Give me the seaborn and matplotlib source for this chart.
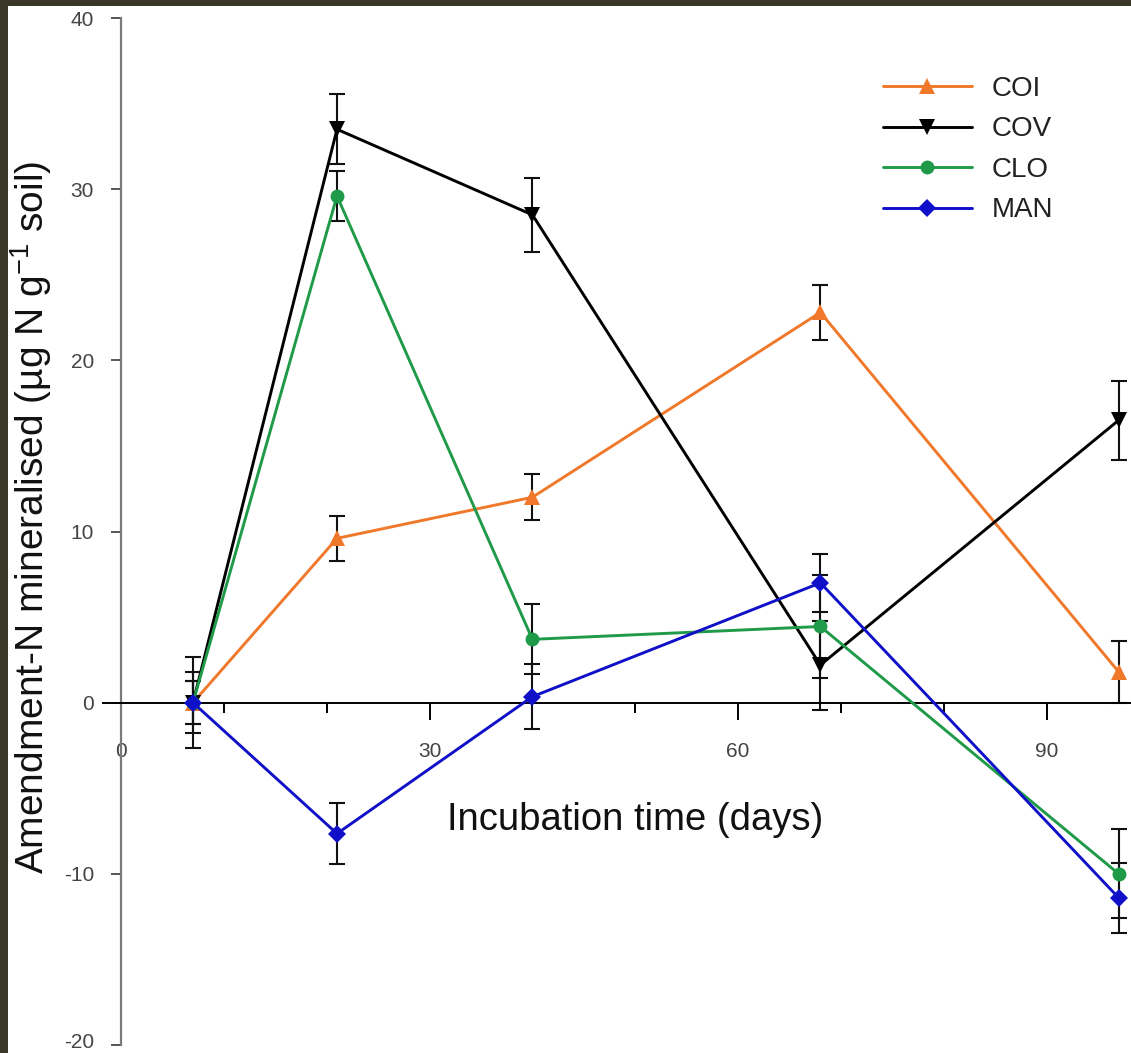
import matplotlib
matplotlib.use("Agg")
import matplotlib.pyplot as plt
from matplotlib.lines import Line2D
from matplotlib.patches import Rectangle
from matplotlib.ticker import MultipleLocator
from matplotlib.transforms import ScaledTranslation
import seaborn as sns
import pandas as pd

# ---- data ----
days = [7, 21, 40, 68, 97]
series_names = ["COI", "COV", "CLO", "MAN"]
coi = [0.0, 9.6, 12.0, 22.8, 1.8]
coi_err = [1.25, 1.3, 1.35, 1.6, 1.8]
cov = [0.0, 33.5, 28.5, 2.2, 16.5]
cov_err = [2.65, 2.05, 2.15, 2.6, 2.3]
clo = [0.0, 29.6, 3.7, 4.45, -10.0]
clo_err = [1.25, 1.45, 2.05, 3.0, 2.6]
man = [0.0, -7.65, 0.35, 7.0, -11.4]
man_err = [1.8, 1.8, 1.9, 1.7, 2.05]
x_ticks = [0, 30, 60, 90]
y_ticks = [-20, -10, 0, 10, 20, 30, 40]

values = {"COI": coi, "COV": cov, "CLO": clo, "MAN": man}
errors = {"COI": coi_err, "COV": cov_err, "CLO": clo_err, "MAN": man_err}

colors = {"COI": "#F0782A", "COV": "#000000", "CLO": "#1F9A48", "MAN": "#1010C8"}
markers = {"COI": "^", "COV": "v", "CLO": "o", "MAN": "D"}
msizes = {"COI": 11.5, "COV": 11.5, "CLO": 10, "MAN": 9.5}

rows = []
for s in series_names:
    for d, v, e in zip(days, values[s], errors[s]):
        rows.append({"day": d, "value": v, "err": e, "series": s})
df = pd.DataFrame(rows)

sns.set_style("white")
plt.rcParams["font.family"] = ["Liberation Sans", "DejaVu Sans"]
plt.rcParams["axes.unicode_minus"] = False
plt.rcParams["mathtext.default"] = "regular"

W, H = 1131, 1053
fig = plt.figure(figsize=(W / 100, H / 100), dpi=100, facecolor="white")

# axes placed in pixel terms
ax_l, ax_r, ax_t, ax_b = 103, 1131, 18, 1045
ax = fig.add_axes([ax_l / W, (H - ax_b) / H, (ax_r - ax_l) / W, (ax_b - ax_t) / H])
ax.set_facecolor("white")

# error bars (black)
for s in series_names:
    sub = df[df.series == s]
    ax.errorbar(sub["day"], sub["value"], yerr=sub["err"], fmt="none",
                ecolor="#111111", elinewidth=1.5, capsize=6, capthick=1.5, zorder=2)

# lines and markers
for s in series_names:
    sub = df[df.series == s]
    sns.lineplot(data=sub, x="day", y="value", ax=ax, color=colors[s],
                 marker=markers[s], markersize=msizes[s], markeredgewidth=0,
                 markerfacecolor=colors[s], linewidth=2.1, legend=False,
                 estimator=None, zorder=3)

ax.set_xlim(-1.75, 98.2)
ax.set_ylim(-20, 40)
ax.set_xlabel("")
ax.set_ylabel("")

for sp in ["top", "right"]:
    ax.spines[sp].set_visible(False)
ax.spines["left"].set_position(("data", 0))
ax.spines["bottom"].set_position(("data", 0))
ax.spines["left"].set_color("#7a7a7a")
ax.spines["left"].set_linewidth(1.6)
ax.spines["bottom"].set_color("#000000")
ax.spines["bottom"].set_linewidth(1.4)

ax.set_xticks(x_ticks)
ax.set_xticklabels([str(t) for t in x_ticks])
ax.xaxis.set_minor_locator(MultipleLocator(10))
ax.set_yticks(y_ticks)
ax.set_yticklabels([str(t) for t in y_ticks])
ax.tick_params(axis="x", which="major", direction="out", length=12, width=1.4,
               color="#000000", labelsize=15, labelcolor="#444444", pad=16, bottom=True)
ax.tick_params(axis="x", which="minor", direction="out", length=7, width=1.4,
               color="#000000", bottom=True)
ax.tick_params(axis="y", which="major", direction="out", length=7.5, width=1.4,
               color="#555555", labelsize=15, labelcolor="#444444", pad=12, left=True)

# keep the lowest y label inside the picture
for lbl in ax.get_yticklabels():
    if lbl.get_text() == "-20":
        lbl.set_transform(lbl.get_transform() + ScaledTranslation(0, 4 / 72 * 0.72, fig.dpi_scale_trans))

# axis titles
fig.text(635 / W, 1 - 820 / H, "Incubation time (days)", ha="center", va="center",
         fontsize=27.5, color="#111111")
fig.text(31 / W, 1 - 517 / H, "Amendment-N mineralised (µg N g$^{-1}$ soil)",
         ha="center", va="center", rotation=90, fontsize=28, color="#111111")

# legend
handles = [Line2D([0], [0], color=colors[s], marker=markers[s], markersize=msizes[s],
                  markeredgewidth=0, linewidth=2.1) for s in series_names]
leg = ax.legend(handles, series_names, loc="upper left",
                bbox_to_anchor=(883 / W, 1 - 76 / H), bbox_transform=fig.transFigure,
                frameon=False, fontsize=20, handlelength=3.2, handletextpad=0.7,
                labelspacing=0.52, borderpad=0, borderaxespad=0)
for t in leg.get_texts():
    t.set_color("#222222")

# dark frame strips (left and top)
fig.patches.append(Rectangle((0, 0), 8 / W, 1, transform=fig.transFigure,
                             facecolor="#3a3728", edgecolor="none", zorder=10))
fig.patches.append(Rectangle((0, 1 - 6 / H), 1, 6 / H, transform=fig.transFigure,
                             facecolor="#3a3728", edgecolor="none", zorder=10))

fig.savefig("out.png", dpi=100, facecolor="white")
